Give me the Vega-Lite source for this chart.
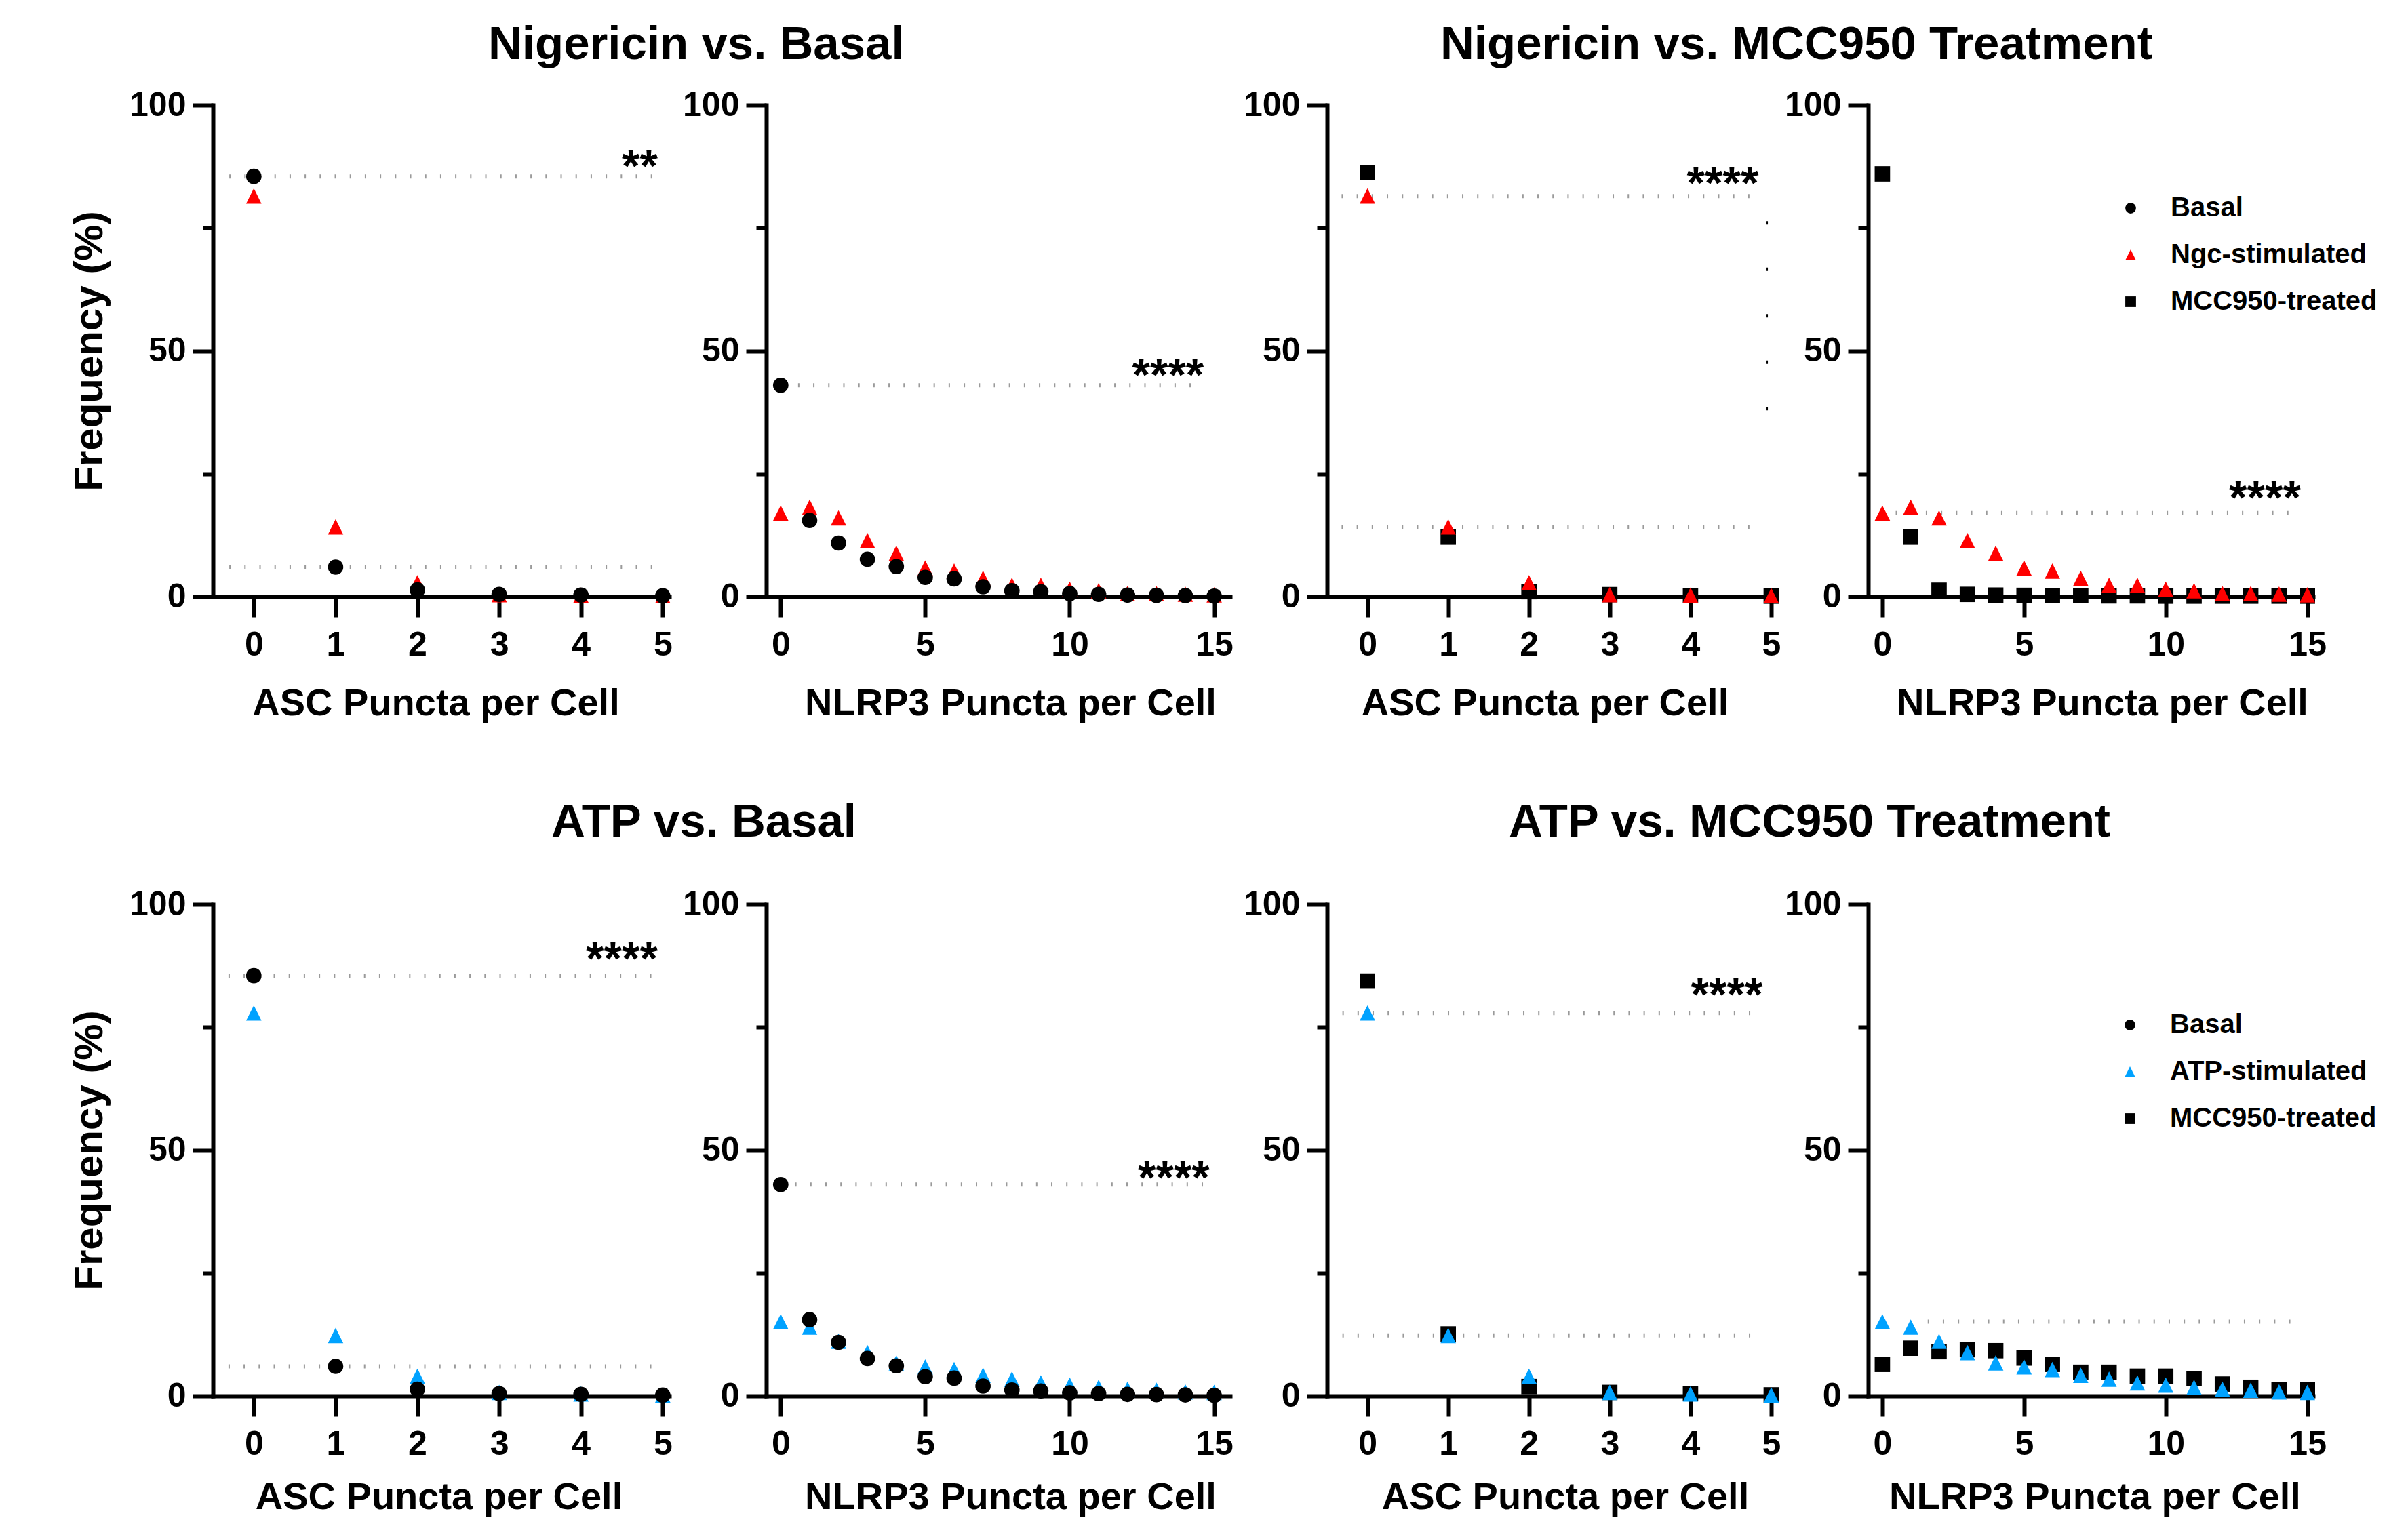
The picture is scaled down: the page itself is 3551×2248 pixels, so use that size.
{
  "$schema": "https://vega.github.io/schema/vega-lite/v6.json",
  "padding": {"left": 102, "top": 32, "right": 30, "bottom": 30},
  "background": "#ffffff",
  "config": {
    "view": {"stroke": null},
    "font": "Liberation Sans",
    "title": {"font": "Liberation Sans", "fontSize": 69, "fontWeight": "bold", "color": "#000000", "anchor": "start", "frame": "group", "align": "left", "baseline": "alphabetic"},
    "axis": {"domainColor": "#000000", "domainWidth": 6, "domainCap": "square", "tickColor": "#000000", "tickWidth": 6, "tickSize": 30, "labelFont": "Liberation Sans", "labelFontSize": 50, "labelFontWeight": "bold", "labelColor": "#000000", "titleFont": "Liberation Sans", "titleFontSize": 56, "titleFontWeight": "bold", "titleColor": "#000000", "grid": false, "labelFlush": false, "labelOverlap": false, "titleAlign": "center", "titleBaseline": "alphabetic"},
    "axisX": {"labelBaseline": "alphabetic", "labelPadding": 56},
    "axisY": {"labelPadding": 10, "titleAngle": 270, "titleFontSize": 60, "titleX": -164, "titleY": 362.5},
    "legend": {"orient": "none", "title": null, "labelFont": "Liberation Sans", "labelFontSize": 40, "labelFontWeight": "bold", "labelColor": "#000000", "labelLimit": 0, "symbolSize": 250, "rowPadding": 29, "labelOffset": 39, "padding": 0, "symbolStrokeWidth": 0, "symbolOpacity": 1},
    "point": {"opacity": 1, "strokeWidth": 0}
  },
  "datasets": {
    "pts": [
      {"s": "ASC-MCC-N", "g": "MCC950-treated", "x": 0, "y": 86.3},
      {"s": "ASC-MCC-N", "g": "MCC950-treated", "x": 1, "y": 12.1},
      {"s": "ASC-MCC-N", "g": "MCC950-treated", "x": 2, "y": 1.0},
      {"s": "ASC-MCC-N", "g": "MCC950-treated", "x": 3, "y": 0.4},
      {"s": "ASC-MCC-N", "g": "MCC950-treated", "x": 4, "y": 0.2},
      {"s": "ASC-MCC-N", "g": "MCC950-treated", "x": 5, "y": 0.1},
      {"s": "ASC-MCC-A", "g": "MCC950-treated", "x": 0, "y": 84.4},
      {"s": "ASC-MCC-A", "g": "MCC950-treated", "x": 1, "y": 12.6},
      {"s": "ASC-MCC-A", "g": "MCC950-treated", "x": 2, "y": 1.9},
      {"s": "ASC-MCC-A", "g": "MCC950-treated", "x": 3, "y": 0.7},
      {"s": "ASC-MCC-A", "g": "MCC950-treated", "x": 4, "y": 0.5},
      {"s": "ASC-MCC-A", "g": "MCC950-treated", "x": 5, "y": 0.2},
      {"s": "NLRP3-MCC-N", "g": "MCC950-treated", "x": 0, "y": 86.0},
      {"s": "NLRP3-MCC-N", "g": "MCC950-treated", "x": 1, "y": 12.1},
      {"s": "NLRP3-MCC-N", "g": "MCC950-treated", "x": 2, "y": 1.3},
      {"s": "NLRP3-MCC-N", "g": "MCC950-treated", "x": 3, "y": 0.45},
      {"s": "NLRP3-MCC-N", "g": "MCC950-treated", "x": 4, "y": 0.3},
      {"s": "NLRP3-MCC-N", "g": "MCC950-treated", "x": 5, "y": 0.25},
      {"s": "NLRP3-MCC-N", "g": "MCC950-treated", "x": 6, "y": 0.2},
      {"s": "NLRP3-MCC-N", "g": "MCC950-treated", "x": 7, "y": 0.2},
      {"s": "NLRP3-MCC-N", "g": "MCC950-treated", "x": 8, "y": 0.15},
      {"s": "NLRP3-MCC-N", "g": "MCC950-treated", "x": 9, "y": 0.15},
      {"s": "NLRP3-MCC-N", "g": "MCC950-treated", "x": 10, "y": 0.1},
      {"s": "NLRP3-MCC-N", "g": "MCC950-treated", "x": 11, "y": 0.1},
      {"s": "NLRP3-MCC-N", "g": "MCC950-treated", "x": 12, "y": 0.1},
      {"s": "NLRP3-MCC-N", "g": "MCC950-treated", "x": 13, "y": 0.1},
      {"s": "NLRP3-MCC-N", "g": "MCC950-treated", "x": 14, "y": 0.1},
      {"s": "NLRP3-MCC-N", "g": "MCC950-treated", "x": 15, "y": 0.1},
      {"s": "NLRP3-MCC-A", "g": "MCC950-treated", "x": 0, "y": 6.4},
      {"s": "NLRP3-MCC-A", "g": "MCC950-treated", "x": 1, "y": 9.7},
      {"s": "NLRP3-MCC-A", "g": "MCC950-treated", "x": 2, "y": 9.0},
      {"s": "NLRP3-MCC-A", "g": "MCC950-treated", "x": 3, "y": 9.4},
      {"s": "NLRP3-MCC-A", "g": "MCC950-treated", "x": 4, "y": 9.2},
      {"s": "NLRP3-MCC-A", "g": "MCC950-treated", "x": 5, "y": 7.7},
      {"s": "NLRP3-MCC-A", "g": "MCC950-treated", "x": 6, "y": 6.4},
      {"s": "NLRP3-MCC-A", "g": "MCC950-treated", "x": 7, "y": 4.8},
      {"s": "NLRP3-MCC-A", "g": "MCC950-treated", "x": 8, "y": 4.8},
      {"s": "NLRP3-MCC-A", "g": "MCC950-treated", "x": 9, "y": 4.0},
      {"s": "NLRP3-MCC-A", "g": "MCC950-treated", "x": 10, "y": 4.0},
      {"s": "NLRP3-MCC-A", "g": "MCC950-treated", "x": 11, "y": 3.5},
      {"s": "NLRP3-MCC-A", "g": "MCC950-treated", "x": 12, "y": 2.4},
      {"s": "NLRP3-MCC-A", "g": "MCC950-treated", "x": 13, "y": 1.75},
      {"s": "NLRP3-MCC-A", "g": "MCC950-treated", "x": 14, "y": 1.3},
      {"s": "NLRP3-MCC-A", "g": "MCC950-treated", "x": 15, "y": 1.3},
      {"s": "ASC-Ngc", "g": "Ngc-stimulated", "x": 0, "y": 81.5},
      {"s": "ASC-Ngc", "g": "Ngc-stimulated", "x": 1, "y": 14.2},
      {"s": "ASC-Ngc", "g": "Ngc-stimulated", "x": 2, "y": 2.8},
      {"s": "ASC-Ngc", "g": "Ngc-stimulated", "x": 3, "y": 0.4},
      {"s": "ASC-Ngc", "g": "Ngc-stimulated", "x": 4, "y": 0.3},
      {"s": "ASC-Ngc", "g": "Ngc-stimulated", "x": 5, "y": 0.2},
      {"s": "ASC-ATP", "g": "ATP-stimulated", "x": 0, "y": 77.9},
      {"s": "ASC-ATP", "g": "ATP-stimulated", "x": 1, "y": 12.3},
      {"s": "ASC-ATP", "g": "ATP-stimulated", "x": 2, "y": 4.0},
      {"s": "ASC-ATP", "g": "ATP-stimulated", "x": 3, "y": 0.7},
      {"s": "ASC-ATP", "g": "ATP-stimulated", "x": 4, "y": 0.4},
      {"s": "ASC-ATP", "g": "ATP-stimulated", "x": 5, "y": 0.2},
      {"s": "NLRP3-Ngc", "g": "Ngc-stimulated", "x": 0, "y": 17.0},
      {"s": "NLRP3-Ngc", "g": "Ngc-stimulated", "x": 1, "y": 18.2},
      {"s": "NLRP3-Ngc", "g": "Ngc-stimulated", "x": 2, "y": 16.0},
      {"s": "NLRP3-Ngc", "g": "Ngc-stimulated", "x": 3, "y": 11.4},
      {"s": "NLRP3-Ngc", "g": "Ngc-stimulated", "x": 4, "y": 8.8},
      {"s": "NLRP3-Ngc", "g": "Ngc-stimulated", "x": 5, "y": 5.8},
      {"s": "NLRP3-Ngc", "g": "Ngc-stimulated", "x": 6, "y": 5.2},
      {"s": "NLRP3-Ngc", "g": "Ngc-stimulated", "x": 7, "y": 3.7},
      {"s": "NLRP3-Ngc", "g": "Ngc-stimulated", "x": 8, "y": 2.3},
      {"s": "NLRP3-Ngc", "g": "Ngc-stimulated", "x": 9, "y": 2.3},
      {"s": "NLRP3-Ngc", "g": "Ngc-stimulated", "x": 10, "y": 1.5},
      {"s": "NLRP3-Ngc", "g": "Ngc-stimulated", "x": 11, "y": 1.2},
      {"s": "NLRP3-Ngc", "g": "Ngc-stimulated", "x": 12, "y": 0.6},
      {"s": "NLRP3-Ngc", "g": "Ngc-stimulated", "x": 13, "y": 0.6},
      {"s": "NLRP3-Ngc", "g": "Ngc-stimulated", "x": 14, "y": 0.5},
      {"s": "NLRP3-Ngc", "g": "Ngc-stimulated", "x": 15, "y": 0.35},
      {"s": "NLRP3-ATP", "g": "ATP-stimulated", "x": 0, "y": 15.1},
      {"s": "NLRP3-ATP", "g": "ATP-stimulated", "x": 1, "y": 14.0},
      {"s": "NLRP3-ATP", "g": "ATP-stimulated", "x": 2, "y": 11.1},
      {"s": "NLRP3-ATP", "g": "ATP-stimulated", "x": 3, "y": 8.8},
      {"s": "NLRP3-ATP", "g": "ATP-stimulated", "x": 4, "y": 6.7},
      {"s": "NLRP3-ATP", "g": "ATP-stimulated", "x": 5, "y": 5.9},
      {"s": "NLRP3-ATP", "g": "ATP-stimulated", "x": 6, "y": 5.35},
      {"s": "NLRP3-ATP", "g": "ATP-stimulated", "x": 7, "y": 4.2},
      {"s": "NLRP3-ATP", "g": "ATP-stimulated", "x": 8, "y": 3.4},
      {"s": "NLRP3-ATP", "g": "ATP-stimulated", "x": 9, "y": 2.65},
      {"s": "NLRP3-ATP", "g": "ATP-stimulated", "x": 10, "y": 2.2},
      {"s": "NLRP3-ATP", "g": "ATP-stimulated", "x": 11, "y": 1.75},
      {"s": "NLRP3-ATP", "g": "ATP-stimulated", "x": 12, "y": 1.35},
      {"s": "NLRP3-ATP", "g": "ATP-stimulated", "x": 13, "y": 1.15},
      {"s": "NLRP3-ATP", "g": "ATP-stimulated", "x": 14, "y": 0.8},
      {"s": "NLRP3-ATP", "g": "ATP-stimulated", "x": 15, "y": 0.7},
      {"s": "ASC-Basal", "g": "Basal", "x": 0, "y": 85.5},
      {"s": "ASC-Basal", "g": "Basal", "x": 1, "y": 6.0},
      {"s": "ASC-Basal", "g": "Basal", "x": 2, "y": 1.35},
      {"s": "ASC-Basal", "g": "Basal", "x": 3, "y": 0.45},
      {"s": "ASC-Basal", "g": "Basal", "x": 4, "y": 0.3},
      {"s": "ASC-Basal", "g": "Basal", "x": 5, "y": 0.15},
      {"s": "NLRP3-Basal", "g": "Basal", "x": 0, "y": 43.0},
      {"s": "NLRP3-Basal", "g": "Basal", "x": 1, "y": 15.5},
      {"s": "NLRP3-Basal", "g": "Basal", "x": 2, "y": 10.9},
      {"s": "NLRP3-Basal", "g": "Basal", "x": 3, "y": 7.6},
      {"s": "NLRP3-Basal", "g": "Basal", "x": 4, "y": 6.1},
      {"s": "NLRP3-Basal", "g": "Basal", "x": 5, "y": 3.9},
      {"s": "NLRP3-Basal", "g": "Basal", "x": 6, "y": 3.6},
      {"s": "NLRP3-Basal", "g": "Basal", "x": 7, "y": 2.0},
      {"s": "NLRP3-Basal", "g": "Basal", "x": 8, "y": 1.2},
      {"s": "NLRP3-Basal", "g": "Basal", "x": 9, "y": 1.0},
      {"s": "NLRP3-Basal", "g": "Basal", "x": 10, "y": 0.6},
      {"s": "NLRP3-Basal", "g": "Basal", "x": 11, "y": 0.45},
      {"s": "NLRP3-Basal", "g": "Basal", "x": 12, "y": 0.3},
      {"s": "NLRP3-Basal", "g": "Basal", "x": 13, "y": 0.25},
      {"s": "NLRP3-Basal", "g": "Basal", "x": 14, "y": 0.2},
      {"s": "NLRP3-Basal", "g": "Basal", "x": 15, "y": 0.1}
    ],
    "hl": [
      {"p": "P1", "x": -0.3, "x2": 4.88, "y": 85.5},
      {"p": "P1", "x": -0.3, "x2": 4.88, "y": 6.0},
      {"p": "P2", "x": 0.6, "x2": 14.66, "y": 43.0},
      {"p": "P3", "x": -0.32, "x2": 4.88, "y": 81.5},
      {"p": "P3", "x": -0.32, "x2": 4.88, "y": 14.2},
      {"p": "P4", "x": 0.47, "x2": 14.6, "y": 17.0},
      {"p": "P5", "x": -0.31, "x2": 4.94, "y": 85.5},
      {"p": "P5", "x": -0.31, "x2": 4.94, "y": 6.0},
      {"p": "P6", "x": 0.5, "x2": 14.7, "y": 43.0},
      {"p": "P7", "x": -0.31, "x2": 4.87, "y": 77.9},
      {"p": "P7", "x": -0.31, "x2": 4.87, "y": 12.3},
      {"p": "P8", "x": 1.6, "x2": 14.7, "y": 15.1}
    ],
    "vl": [
      {"p": "P3", "x": 4.95, "y": 37.9, "y2": 76.4}
    ],
    "stars": [
      {"p": "P1", "x": 4.72, "y": 84.4, "t": "**"},
      {"p": "P2", "x": 13.4, "y": 41.9, "t": "****"},
      {"p": "P3", "x": 4.4, "y": 80.9, "t": "****"},
      {"p": "P4", "x": 13.5, "y": 17.0, "t": "****"},
      {"p": "P5", "x": 4.5, "y": 85.8, "t": "****"},
      {"p": "P6", "x": 13.6, "y": 41.2, "t": "****"},
      {"p": "P7", "x": 4.45, "y": 78.5, "t": "****"}
    ]
  },
  "columns": 4,
  "align": "none",
  "bounds": "flush",
  "spacing": {"row": 454, "column": 143},
  "resolve": {"scale": {"color": "independent", "shape": "independent"}},
  "concat": [
    {
      "width": 673, "height": 725,
      "title": {"text": "Nigericin vs. Basal", "dx": 406, "offset": 29, "align": "left"},
      "encoding": {
        "x": {"field": "x", "type": "quantitative", "scale": {"domain": [-0.5, 5.08], "nice": false, "zero": false}, "axis": {"values": [0, 1, 2, 3, 4, 5], "title": "ASC Puncta per Cell", "titleX": 328.5, "titleY": 174}},
        "y": {"field": "y", "type": "quantitative", "scale": {"domain": [0, 100], "nice": false}, "axis": {"values": [0, 25, 50, 75, 100], "labelExpr": "datum.value % 50 == 0 ? datum.label : ''", "tickSize": {"condition": {"test": "datum.value % 50 == 0", "value": 30}, "value": 15}, "title": "Frequency (%)"}}
      },
      "layer": [
        {"data": {"name": "hl"}, "transform": [{"filter": "datum.p == 'P1'"}],
         "mark": {"type": "rule", "color": "#9a9a9a", "strokeWidth": 6, "strokeDash": [2, 20.2]},
         "encoding": {"x2": {"field": "x2"}}},
        {"data": {"name": "pts"}, "transform": [{"filter": {"field": "s", "oneOf": ["ASC-Ngc", "ASC-Basal"]}}],
         "mark": {"type": "point", "filled": true, "size": 515},
         "encoding": {
           "color": {"field": "g", "type": "nominal", "scale": {"domain": ["Basal", "Ngc-stimulated", "ATP-stimulated", "MCC950-treated"], "range": ["#000000", "#ff0000", "#00a2ff", "#000000"]}, "legend": null},
           "shape": {"field": "g", "type": "nominal", "scale": {"domain": ["Basal", "Ngc-stimulated", "ATP-stimulated", "MCC950-treated"], "range": ["circle", "M0,-1L1,1L-1,1Z", "M0,-1L1,1L-1,1Z", "square"]}, "legend": null}
         }},
        {"data": {"name": "stars"}, "transform": [{"filter": "datum.p == 'P1'"}],
         "mark": {"type": "text", "font": "Liberation Sans", "fontSize": 68, "fontWeight": "bold", "color": "#000000", "align": "center", "baseline": "alphabetic"},
         "encoding": {"text": {"field": "t"}}}
      ]
    },
    {
      "width": 684, "height": 725,
      "encoding": {
        "x": {"field": "x", "type": "quantitative", "scale": {"domain": [-0.5, 15.55], "nice": false, "zero": false}, "axis": {"values": [0, 5, 10, 15], "title": "NLRP3 Puncta per Cell", "titleX": 360, "titleY": 174}},
        "y": {"field": "y", "type": "quantitative", "scale": {"domain": [0, 100], "nice": false}, "axis": {"values": [0, 25, 50, 75, 100], "labelExpr": "datum.value % 50 == 0 ? datum.label : ''", "tickSize": {"condition": {"test": "datum.value % 50 == 0", "value": 30}, "value": 15}, "title": null}}
      },
      "layer": [
        {"data": {"name": "hl"}, "transform": [{"filter": "datum.p == 'P2'"}],
         "mark": {"type": "rule", "color": "#9a9a9a", "strokeWidth": 6, "strokeDash": [2, 20.2]},
         "encoding": {"x2": {"field": "x2"}}},
        {"data": {"name": "pts"}, "transform": [{"filter": {"field": "s", "oneOf": ["NLRP3-Ngc", "NLRP3-Basal"]}}],
         "mark": {"type": "point", "filled": true, "size": 515},
         "encoding": {
           "color": {"field": "g", "type": "nominal", "scale": {"domain": ["Basal", "Ngc-stimulated", "ATP-stimulated", "MCC950-treated"], "range": ["#000000", "#ff0000", "#00a2ff", "#000000"]}, "legend": null},
           "shape": {"field": "g", "type": "nominal", "scale": {"domain": ["Basal", "Ngc-stimulated", "ATP-stimulated", "MCC950-treated"], "range": ["circle", "M0,-1L1,1L-1,1Z", "M0,-1L1,1L-1,1Z", "square"]}, "legend": null}
         }},
        {"data": {"name": "stars"}, "transform": [{"filter": "datum.p == 'P2'"}],
         "mark": {"type": "text", "font": "Liberation Sans", "fontSize": 68, "fontWeight": "bold", "color": "#000000", "align": "center", "baseline": "alphabetic"},
         "encoding": {"text": {"field": "t"}}}
      ]
    },
    {
      "width": 655, "height": 725,
      "title": {"text": "Nigericin vs. MCC950 Treatment", "dx": 167, "offset": 29, "align": "left"},
      "encoding": {
        "x": {"field": "x", "type": "quantitative", "scale": {"domain": [-0.5, 5.0], "nice": false, "zero": false}, "axis": {"values": [0, 1, 2, 3, 4, 5], "title": "ASC Puncta per Cell", "titleX": 321, "titleY": 174}},
        "y": {"field": "y", "type": "quantitative", "scale": {"domain": [0, 100], "nice": false}, "axis": {"values": [0, 25, 50, 75, 100], "labelExpr": "datum.value % 50 == 0 ? datum.label : ''", "tickSize": {"condition": {"test": "datum.value % 50 == 0", "value": 30}, "value": 15}, "title": null}}
      },
      "layer": [
        {"data": {"name": "hl"}, "transform": [{"filter": "datum.p == 'P3'"}],
         "mark": {"type": "rule", "color": "#9a9a9a", "strokeWidth": 6, "strokeDash": [2, 20.2]},
         "encoding": {"x2": {"field": "x2"}}},
        {"data": {"name": "vl"}, "transform": [{"filter": "datum.p == 'P3'"}],
         "mark": {"type": "rule", "color": "#000000", "strokeWidth": 2, "strokeDash": [5, 63.5]},
         "encoding": {"y2": {"field": "y2"}}},
        {"data": {"name": "pts"}, "transform": [{"filter": {"field": "s", "oneOf": ["ASC-MCC-N", "ASC-Ngc"]}}],
         "mark": {"type": "point", "filled": true, "size": 515},
         "encoding": {
           "color": {"field": "g", "type": "nominal", "scale": {"domain": ["Basal", "Ngc-stimulated", "ATP-stimulated", "MCC950-treated"], "range": ["#000000", "#ff0000", "#00a2ff", "#000000"]}, "legend": null},
           "shape": {"field": "g", "type": "nominal", "scale": {"domain": ["Basal", "Ngc-stimulated", "ATP-stimulated", "MCC950-treated"], "range": ["circle", "M0,-1L1,1L-1,1Z", "M0,-1L1,1L-1,1Z", "square"]}, "legend": null}
         }},
        {"data": {"name": "stars"}, "transform": [{"filter": "datum.p == 'P3'"}],
         "mark": {"type": "text", "font": "Liberation Sans", "fontSize": 68, "fontWeight": "bold", "color": "#000000", "align": "center", "baseline": "alphabetic"},
         "encoding": {"text": {"field": "t"}}}
      ]
    },
    {
      "width": 656, "height": 725,
      "encoding": {
        "x": {"field": "x", "type": "quantitative", "scale": {"domain": [-0.5, 15.2], "nice": false, "zero": false}, "axis": {"values": [0, 5, 10, 15], "title": "NLRP3 Puncta per Cell", "titleX": 345, "titleY": 174}},
        "y": {"field": "y", "type": "quantitative", "scale": {"domain": [0, 100], "nice": false}, "axis": {"values": [0, 25, 50, 75, 100], "labelExpr": "datum.value % 50 == 0 ? datum.label : ''", "tickSize": {"condition": {"test": "datum.value % 50 == 0", "value": 30}, "value": 15}, "title": null}}
      },
      "layer": [
        {"data": {"name": "hl"}, "transform": [{"filter": "datum.p == 'P4'"}],
         "mark": {"type": "rule", "color": "#9a9a9a", "strokeWidth": 6, "strokeDash": [2, 20.2]},
         "encoding": {"x2": {"field": "x2"}}},
        {"data": {"name": "pts"}, "transform": [{"filter": {"field": "s", "oneOf": ["NLRP3-MCC-N", "NLRP3-Ngc"]}}],
         "mark": {"type": "point", "filled": true, "size": 515},
         "encoding": {
           "color": {"field": "g", "type": "nominal", "scale": {"domain": ["Basal", "Ngc-stimulated", "MCC950-treated"], "range": ["#000000", "#ff0000", "#000000"]}, "legend": {"legendX": 367, "legendY": 132}},
           "shape": {"field": "g", "type": "nominal", "scale": {"domain": ["Basal", "Ngc-stimulated", "MCC950-treated"], "range": ["circle", "M0,-1L1,1L-1,1Z", "square"]}, "legend": {"legendX": 367, "legendY": 132}}
         }},
        {"data": {"name": "stars"}, "transform": [{"filter": "datum.p == 'P4'"}],
         "mark": {"type": "text", "font": "Liberation Sans", "fontSize": 68, "fontWeight": "bold", "color": "#000000", "align": "center", "baseline": "alphabetic"},
         "encoding": {"text": {"field": "t"}}}
      ]
    },
    {
      "width": 673, "height": 725,
      "title": {"text": "ATP vs. Basal", "dx": 499, "offset": 61, "align": "left"},
      "encoding": {
        "x": {"field": "x", "type": "quantitative", "scale": {"domain": [-0.5, 5.08], "nice": false, "zero": false}, "axis": {"values": [0, 1, 2, 3, 4, 5], "title": "ASC Puncta per Cell", "titleX": 333, "titleY": 166}},
        "y": {"field": "y", "type": "quantitative", "scale": {"domain": [0, 100], "nice": false}, "axis": {"values": [0, 25, 50, 75, 100], "labelExpr": "datum.value % 50 == 0 ? datum.label : ''", "tickSize": {"condition": {"test": "datum.value % 50 == 0", "value": 30}, "value": 15}, "title": "Frequency (%)"}}
      },
      "layer": [
        {"data": {"name": "hl"}, "transform": [{"filter": "datum.p == 'P5'"}],
         "mark": {"type": "rule", "color": "#9a9a9a", "strokeWidth": 6, "strokeDash": [2, 20.2]},
         "encoding": {"x2": {"field": "x2"}}},
        {"data": {"name": "pts"}, "transform": [{"filter": {"field": "s", "oneOf": ["ASC-ATP", "ASC-Basal"]}}],
         "mark": {"type": "point", "filled": true, "size": 515},
         "encoding": {
           "color": {"field": "g", "type": "nominal", "scale": {"domain": ["Basal", "Ngc-stimulated", "ATP-stimulated", "MCC950-treated"], "range": ["#000000", "#ff0000", "#00a2ff", "#000000"]}, "legend": null},
           "shape": {"field": "g", "type": "nominal", "scale": {"domain": ["Basal", "Ngc-stimulated", "ATP-stimulated", "MCC950-treated"], "range": ["circle", "M0,-1L1,1L-1,1Z", "M0,-1L1,1L-1,1Z", "square"]}, "legend": null}
         }},
        {"data": {"name": "stars"}, "transform": [{"filter": "datum.p == 'P5'"}],
         "mark": {"type": "text", "font": "Liberation Sans", "fontSize": 68, "fontWeight": "bold", "color": "#000000", "align": "center", "baseline": "alphabetic"},
         "encoding": {"text": {"field": "t"}}}
      ]
    },
    {
      "width": 684, "height": 725,
      "encoding": {
        "x": {"field": "x", "type": "quantitative", "scale": {"domain": [-0.5, 15.55], "nice": false, "zero": false}, "axis": {"values": [0, 5, 10, 15], "title": "NLRP3 Puncta per Cell", "titleX": 360, "titleY": 166}},
        "y": {"field": "y", "type": "quantitative", "scale": {"domain": [0, 100], "nice": false}, "axis": {"values": [0, 25, 50, 75, 100], "labelExpr": "datum.value % 50 == 0 ? datum.label : ''", "tickSize": {"condition": {"test": "datum.value % 50 == 0", "value": 30}, "value": 15}, "title": null}}
      },
      "layer": [
        {"data": {"name": "hl"}, "transform": [{"filter": "datum.p == 'P6'"}],
         "mark": {"type": "rule", "color": "#9a9a9a", "strokeWidth": 6, "strokeDash": [2, 20.2]},
         "encoding": {"x2": {"field": "x2"}}},
        {"data": {"name": "pts"}, "transform": [{"filter": {"field": "s", "oneOf": ["NLRP3-ATP", "NLRP3-Basal"]}}],
         "mark": {"type": "point", "filled": true, "size": 515},
         "encoding": {
           "color": {"field": "g", "type": "nominal", "scale": {"domain": ["Basal", "Ngc-stimulated", "ATP-stimulated", "MCC950-treated"], "range": ["#000000", "#ff0000", "#00a2ff", "#000000"]}, "legend": null},
           "shape": {"field": "g", "type": "nominal", "scale": {"domain": ["Basal", "Ngc-stimulated", "ATP-stimulated", "MCC950-treated"], "range": ["circle", "M0,-1L1,1L-1,1Z", "M0,-1L1,1L-1,1Z", "square"]}, "legend": null}
         }},
        {"data": {"name": "stars"}, "transform": [{"filter": "datum.p == 'P6'"}],
         "mark": {"type": "text", "font": "Liberation Sans", "fontSize": 68, "fontWeight": "bold", "color": "#000000", "align": "center", "baseline": "alphabetic"},
         "encoding": {"text": {"field": "t"}}}
      ]
    },
    {
      "width": 655, "height": 725,
      "title": {"text": "ATP vs. MCC950 Treatment", "dx": 268, "offset": 61, "align": "left"},
      "encoding": {
        "x": {"field": "x", "type": "quantitative", "scale": {"domain": [-0.5, 5.0], "nice": false, "zero": false}, "axis": {"values": [0, 1, 2, 3, 4, 5], "title": "ASC Puncta per Cell", "titleX": 351, "titleY": 166}},
        "y": {"field": "y", "type": "quantitative", "scale": {"domain": [0, 100], "nice": false}, "axis": {"values": [0, 25, 50, 75, 100], "labelExpr": "datum.value % 50 == 0 ? datum.label : ''", "tickSize": {"condition": {"test": "datum.value % 50 == 0", "value": 30}, "value": 15}, "title": null}}
      },
      "layer": [
        {"data": {"name": "hl"}, "transform": [{"filter": "datum.p == 'P7'"}],
         "mark": {"type": "rule", "color": "#9a9a9a", "strokeWidth": 6, "strokeDash": [2, 20.2]},
         "encoding": {"x2": {"field": "x2"}}},
        {"data": {"name": "pts"}, "transform": [{"filter": {"field": "s", "oneOf": ["ASC-MCC-A", "ASC-ATP"]}}],
         "mark": {"type": "point", "filled": true, "size": 515},
         "encoding": {
           "color": {"field": "g", "type": "nominal", "scale": {"domain": ["Basal", "Ngc-stimulated", "ATP-stimulated", "MCC950-treated"], "range": ["#000000", "#ff0000", "#00a2ff", "#000000"]}, "legend": null},
           "shape": {"field": "g", "type": "nominal", "scale": {"domain": ["Basal", "Ngc-stimulated", "ATP-stimulated", "MCC950-treated"], "range": ["circle", "M0,-1L1,1L-1,1Z", "M0,-1L1,1L-1,1Z", "square"]}, "legend": null}
         }},
        {"data": {"name": "stars"}, "transform": [{"filter": "datum.p == 'P7'"}],
         "mark": {"type": "text", "font": "Liberation Sans", "fontSize": 68, "fontWeight": "bold", "color": "#000000", "align": "center", "baseline": "alphabetic"},
         "encoding": {"text": {"field": "t"}}}
      ]
    },
    {
      "width": 656, "height": 725,
      "encoding": {
        "x": {"field": "x", "type": "quantitative", "scale": {"domain": [-0.5, 15.2], "nice": false, "zero": false}, "axis": {"values": [0, 5, 10, 15], "title": "NLRP3 Puncta per Cell", "titleX": 334, "titleY": 166}},
        "y": {"field": "y", "type": "quantitative", "scale": {"domain": [0, 100], "nice": false}, "axis": {"values": [0, 25, 50, 75, 100], "labelExpr": "datum.value % 50 == 0 ? datum.label : ''", "tickSize": {"condition": {"test": "datum.value % 50 == 0", "value": 30}, "value": 15}, "title": null}}
      },
      "layer": [
        {"data": {"name": "hl"}, "transform": [{"filter": "datum.p == 'P8'"}],
         "mark": {"type": "rule", "color": "#9a9a9a", "strokeWidth": 6, "strokeDash": [2, 20.2]},
         "encoding": {"x2": {"field": "x2"}}},
        {"data": {"name": "pts"}, "transform": [{"filter": {"field": "s", "oneOf": ["NLRP3-MCC-A", "NLRP3-ATP"]}}],
         "mark": {"type": "point", "filled": true, "size": 515},
         "encoding": {
           "color": {"field": "g", "type": "nominal", "scale": {"domain": ["Basal", "ATP-stimulated", "MCC950-treated"], "range": ["#000000", "#00a2ff", "#000000"]}, "legend": {"legendX": 366, "legendY": 158}},
           "shape": {"field": "g", "type": "nominal", "scale": {"domain": ["Basal", "ATP-stimulated", "MCC950-treated"], "range": ["circle", "M0,-1L1,1L-1,1Z", "square"]}, "legend": {"legendX": 366, "legendY": 158}}
         }}
      ]
    }
  ]
}
